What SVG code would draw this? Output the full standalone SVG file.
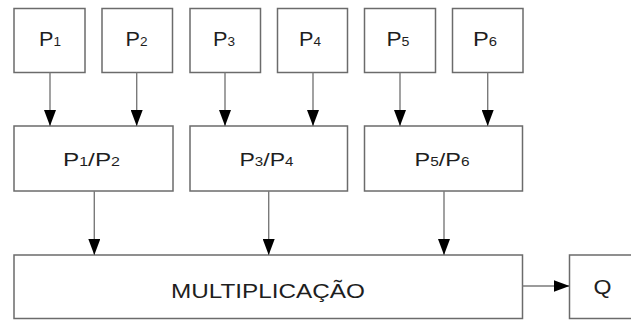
<svg xmlns="http://www.w3.org/2000/svg" width="631" height="320" viewBox="0 0 631 320">
  <style>
    .box { fill: #ffffff; stroke: #6b6b6b; stroke-width: 1.5; }
    .lbl { font-family: "Liberation Sans", Arial, sans-serif; fill: #1e1e1e; text-anchor: middle; }
    .top { font-size: 20px; }
    .mid { font-size: 19px; }
    .big { font-size: 21px; }
    .sub { font-size: 12.5px; }
    .wire { stroke: #7a7a7a; stroke-width: 1.4; fill: none; marker-end: url(#head); }
  </style>
  <defs>
    <marker id="head" viewBox="0 0 16 12" refX="16" refY="6" markerWidth="16" markerHeight="12" markerUnits="userSpaceOnUse" orient="auto">
      <path d="M0,0 L16,6 L0,12 z" fill="#000000"/>
    </marker>
  </defs>
  <rect width="631" height="320" fill="#ffffff"/>

  <!-- inputs -->
  <g id="p1"><rect class="box" x="14" y="8.5" width="71" height="64"/><text class="lbl top" x="50" y="45.5" textLength="22" lengthAdjust="spacingAndGlyphs">P<tspan class="sub">1</tspan></text></g>
  <g id="p2"><rect class="box" x="102" y="8.5" width="70.5" height="64"/><text class="lbl top" x="136.5" y="45.5" textLength="22" lengthAdjust="spacingAndGlyphs">P<tspan class="sub">2</tspan></text></g>
  <g id="p3"><rect class="box" x="190" y="8.5" width="70.5" height="64"/><text class="lbl top" x="224" y="45.5" textLength="22" lengthAdjust="spacingAndGlyphs">P<tspan class="sub">3</tspan></text></g>
  <g id="p4"><rect class="box" x="277.5" y="8.5" width="70" height="64"/><text class="lbl top" x="310" y="45.5" textLength="22" lengthAdjust="spacingAndGlyphs">P<tspan class="sub">4</tspan></text></g>
  <g id="p5"><rect class="box" x="364.5" y="8.5" width="71" height="64"/><text class="lbl top" x="398" y="45.5" textLength="23" lengthAdjust="spacingAndGlyphs">P<tspan class="sub">5</tspan></text></g>
  <g id="p6"><rect class="box" x="452.5" y="8.5" width="70.5" height="64"/><text class="lbl top" x="485" y="45.5" textLength="24" lengthAdjust="spacingAndGlyphs">P<tspan class="sub">6</tspan></text></g>

  <!-- ratios -->
  <g id="p12"><rect class="box" x="14" y="126" width="159" height="65"/><text class="lbl mid" x="91.5" y="165.5" textLength="57" lengthAdjust="spacingAndGlyphs">P<tspan class="sub">1</tspan>/P<tspan class="sub">2</tspan></text></g>
  <g id="p34"><rect class="box" x="190" y="126" width="157.5" height="65"/><text class="lbl mid" x="266.5" y="165.5" textLength="54" lengthAdjust="spacingAndGlyphs">P<tspan class="sub">3</tspan>/P<tspan class="sub">4</tspan></text></g>
  <g id="p56"><rect class="box" x="364.5" y="126" width="158" height="65"/><text class="lbl mid" x="442" y="165.5" textLength="55" lengthAdjust="spacingAndGlyphs">P<tspan class="sub">5</tspan>/P<tspan class="sub">6</tspan></text></g>

  <!-- product and result -->
  <g id="mult"><rect class="box" x="14" y="255" width="508.5" height="63.5"/><text class="lbl big" x="268" y="297.5" textLength="194" lengthAdjust="spacingAndGlyphs">MULTIPLICAÇÃO</text></g>
  <g id="q"><rect class="box" x="569.5" y="255" width="70" height="63.5"/><text class="lbl big" x="602.5" y="294" textLength="18" lengthAdjust="spacingAndGlyphs">Q</text></g>

  <g id="connectors">
    <line class="wire" x1="50" y1="72.5" x2="50" y2="126"/>
    <line class="wire" x1="136.7" y1="72.5" x2="136.7" y2="126"/>
    <line class="wire" x1="225" y1="72.5" x2="225" y2="126"/>
    <line class="wire" x1="313" y1="72.5" x2="313" y2="126"/>
    <line class="wire" x1="400" y1="72.5" x2="400" y2="126"/>
    <line class="wire" x1="487.7" y1="72.5" x2="487.7" y2="126"/>
    <line class="wire" x1="94.3" y1="191" x2="94.3" y2="255"/>
    <line class="wire" x1="268.7" y1="191" x2="268.7" y2="255"/>
    <line class="wire" x1="444" y1="191" x2="444" y2="255"/>
    <line class="wire" x1="522.5" y1="286" x2="569.5" y2="286"/>
  </g>
</svg>
